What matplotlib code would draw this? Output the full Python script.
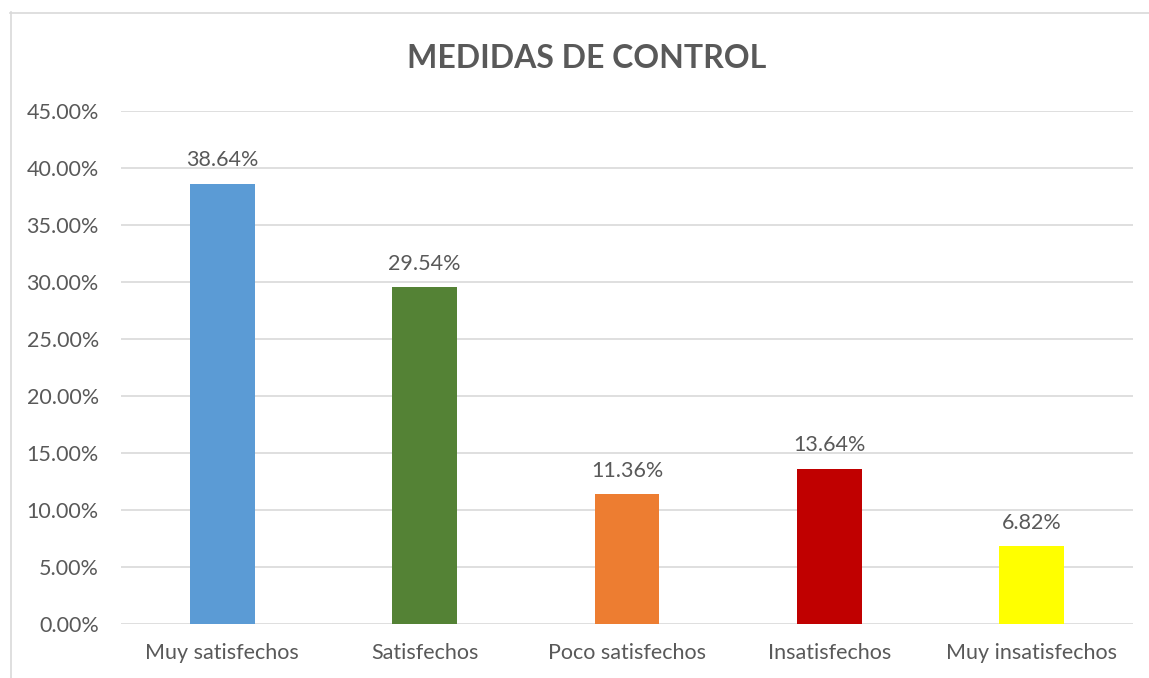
import matplotlib.pyplot as plt
from matplotlib.lines import Line2D

categories = ['Muy satisfechos', 'Satisfechos', 'Poco satisfechos', 'Insatisfechos', 'Muy insatisfechos']
values = [38.64, 29.54, 11.36, 13.64, 6.82]
colors = ['#5B9BD5', '#548235', '#ED7D31', '#C00000', '#FFFF00']
yticks = [0, 5, 10, 15, 20, 25, 30, 35, 40, 45]

plt.rcParams['font.family'] = ['Lato', 'DejaVu Sans']
txt = '#595959'
fs = 15.5

W, H = 1149, 678
fig = plt.figure(figsize=(W / 100, H / 100), dpi=100)
ax = fig.add_axes([121 / W, 1 - 624 / H, (1133 - 121) / W, (624 - 111) / H])

x = range(len(categories))
ax.bar(x, values, width=0.32, color=colors, zorder=3)
for i, v in enumerate(values):
    ax.text(i, v + 1.2, f'{v:.2f}%', ha='center', va='bottom', fontsize=fs, color=txt)

ax.set_xlim(-0.5, len(categories) - 0.5)
ax.set_ylim(0, 45)
ax.set_yticks(yticks)
ax.set_yticklabels([f'{t:.2f}%' for t in yticks], fontsize=fs, color=txt)
ax.set_xticks(list(x))
ax.set_xticklabels(categories, fontsize=fs, color=txt)
ax.tick_params(length=0)
ax.tick_params(axis='y', pad=16)
ax.tick_params(axis='x', pad=14)
ax.grid(axis='y', color='#D9D9D9', linewidth=1.2, zorder=0)
for s in ax.spines.values():
    s.set_visible(False)

fig.text(587 / W, 1 - 58 / H, 'MEDIDAS DE CONTROL', ha='center', va='center',
         fontsize=23, fontweight='bold', color=txt)

# chart border (left and top edges visible)
fig.add_artist(Line2D([10.5 / W, 10.5 / W], [0, 1 - 12 / H], transform=fig.transFigure,
                      color='#D9D9D9', linewidth=1.2))
fig.add_artist(Line2D([10 / W, 1], [1 - 12.5 / H, 1 - 12.5 / H], transform=fig.transFigure,
                      color='#D9D9D9', linewidth=1.2))

fig.savefig('out.png', dpi=100)
